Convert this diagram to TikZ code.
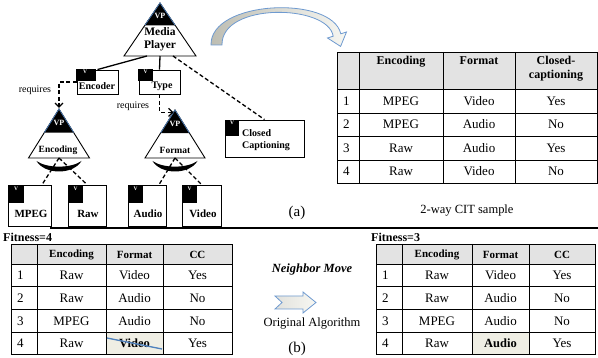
\documentclass[tikz,border=0pt]{standalone}
\usepackage{fontspec}
\setmainfont{Liberation Serif}
\usetikzlibrary{arrows.meta,calc}
\definecolor{hdrgray}{HTML}{E3E3E3}
\definecolor{cream}{HTML}{EFEEE4}
\definecolor{tipblue}{HTML}{4F81BD}
\definecolor{arrowblue}{HTML}{6E9AD0}
\definecolor{arrowgray}{HTML}{BDBDB2}
\definecolor{arrowlight}{HTML}{F7F7F2}
\newcommand\vptri[6]{%
  \coordinate (#1-apex) at (#2,#3);
  \coordinate (#1-bl) at ({#2-#4},#5);
  \coordinate (#1-br) at ({#2+#4},#5);
  \coordinate (#1-base) at (#2,#5);
  \draw[line width=0.9pt,fill=white] (#1-apex) -- (#1-bl) -- (#1-br) -- cycle;
  \coordinate (#1-tl) at ($(#1-apex)!#6!(#1-bl)$);
  \coordinate (#1-tr) at ($(#1-apex)!#6!(#1-br)$);
  \fill[black] (#1-apex) -- (#1-tl) -- (#1-tr) -- cycle;
  \draw[tipblue,line width=0.7pt] (#1-tl) -- (#1-apex) -- (#1-tr);
}
\newcommand\orarc[2]{%
  \fill[black] ({#1-22.5},{#2-1}) .. controls ({#1-14},{#2+13}) and ({#1+14},{#2+13}) .. ({#1+22.5},{#2-1})
    .. controls ({#1+12},{#2+6.5}) and ({#1-12},{#2+6.5}) .. cycle;
}
\begin{document}
\begin{tikzpicture}[x=1pt,y=-1pt,
  tbl/.style={line width=0.9pt},
  box/.style={draw,line width=0.9pt,fill=white,inner sep=0pt,rectangle},
  vsq/.style={fill=black,inner sep=0pt,anchor=north west,rectangle},
  vtxt/.style={text=white,font=\bfseries\fontsize{5.5}{6}\selectfont,inner sep=0pt,anchor=north},
  vptxt/.style={text=white,font=\bfseries\fontsize{8}{9}\selectfont,inner sep=0pt},
  mplbl/.style={font=\bfseries\fontsize{11.5}{13}\selectfont,inner sep=0pt,align=center},
  trilbl/.style={font=\bfseries\fontsize{9.5}{10}\selectfont,inner sep=0pt},
  featlbl/.style={font=\bfseries\fontsize{10}{12.5}\selectfont,inner sep=0pt},
  leaflbl/.style={font=\bfseries\fontsize{11}{12}\selectfont,inner sep=0pt},
  reqlbl/.style={font=\fontsize{10}{11}\selectfont,inner sep=0pt},
  dashcon/.style={line width=1.3pt,dash pattern=on 4pt off 2.5pt},
  solidcon/.style={line width=1.3pt},
  reqarrow/.style={dashcon,-{Straight Barb[length=4pt,width=8pt,line width=1.3pt]}},
  hdr/.style={font=\bfseries\fontsize{12}{13.5}\selectfont,inner sep=0pt},
  shdr/.style={font=\bfseries\fontsize{11}{12}\selectfont,inner sep=0pt},
  cell/.style={font=\fontsize{13}{14}\selectfont,inner sep=0pt},
  bcell/.style={font=\bfseries\fontsize{12.5}{14}\selectfont,inner sep=0pt},
  numcell/.style={font=\fontsize{13}{14}\selectfont,inner sep=0pt,anchor=west},
  plain/.style={font=\fontsize{12.5}{14}\selectfont,inner sep=0pt},
  fitlbl/.style={font=\bfseries\fontsize{12}{14}\selectfont,inner sep=0pt,anchor=west},
]
\useasboundingbox (0,0) rectangle (598,358);

% ---------------- feature tree ----------------
\vptri{mp}{160}{3}{36}{56}{0.42}
\vptri{enc}{59}{109}{30.5}{158}{0.48}
\vptri{fmt}{175}{110}{30}{158}{0.48}
\node[vptxt] (mpVP) at (160,16) {VP};
\node[vptxt] (encVP) at (59,123) {VP};
\node[vptxt] (fmtVP) at (175,124) {VP};
\node[mplbl] (mpT) at (160,39.5) {Media\\Player};
\node[trilbl] (encT) at (58,150) {Encoding};
\node[trilbl] (fmtT) at (175,150) {Format};

\coordinate (mpL) at (147,56);
\coordinate (mpR) at (173,56);

% feature boxes
\node[box,minimum width=41pt,minimum height=24pt] (encoder) at (97.5,82) {};
\node[vsq,minimum width=20pt,minimum height=12pt] (encoderV) at (76,69) {};
\node[vtxt] (encoderVt) at ($(encoderV.north)+(-1,1)$) {V};
\node[featlbl] (encoderT) at (97,86.5) {Encoder};

\node[box,minimum width=41pt,minimum height=24pt] (type) at (159.5,82) {};
\node[vsq,minimum width=15pt,minimum height=12pt] (typeV) at (138,69) {};
\node[vtxt] (typeVt) at ($(typeV.north)+(0,1)$) {V};
\node[featlbl] (typeT) at (162,86.5) {Type};

\node[box,minimum width=79pt,minimum height=37pt] (cc) at (264.5,138.5) {};
\node[vsq,minimum width=14pt,minimum height=16pt] (ccV) at (225,120) {};
\node[vtxt] (ccVt) at ($(ccV.north)+(0,1)$) {V};
\node[featlbl,align=left,anchor=west] (ccT) at (242,140) {Closed\\Captioning};

% leaves
\node[box,minimum width=43pt,minimum height=41pt] (mpeg) at (30,205.5) {};
\node[vsq,minimum width=16pt,minimum height=18pt] (mpegV) at (8,185) {};
\node[vtxt] (mpegVt) at ($(mpegV.north)+(0,1.5)$) {V};
\node[leaflbl] (mpegT) at (31,214) {MPEG};

\node[box,minimum width=38pt,minimum height=41pt] (raw) at (87,205.5) {};
\node[vsq,minimum width=15pt,minimum height=18pt] (rawV) at (68,185) {};
\node[vtxt] (rawVt) at ($(rawV.north)+(0,1.5)$) {V};
\node[leaflbl] (rawT) at (88,214) {Raw};

\node[box,minimum width=38pt,minimum height=41pt] (audio) at (147,205.5) {};
\node[vsq,minimum width=15pt,minimum height=18pt] (audioV) at (128,185) {};
\node[vtxt] (audioVt) at ($(audioV.north)+(0,1.5)$) {V};
\node[leaflbl] (audioT) at (148,214) {Audio};

\node[box,minimum width=39pt,minimum height=41pt] (video) at (201.5,205.5) {};
\node[vsq,minimum width=15pt,minimum height=18pt] (videoV) at (182,185) {};
\node[vtxt] (videoVt) at ($(videoV.north)+(0,1.5)$) {V};
\node[leaflbl] (videoT) at (203,214) {Video};

% connectors
\draw[solidcon] (mpL) -- (encoder.north);
\draw[solidcon] (mp-base) -- (type.north);
\draw[dashcon] (mpR) -- (cc.north);

\draw[reqarrow,shorten >=1pt] (encoder.west) -| (enc-apex);
\node[reqlbl] (req1) at (35,90) {requires};
\coordinate (fmtReq) at ($(fmt-apex)!0.05!(fmt-bl)$);
\draw[reqarrow] (type.south) |- (fmtReq);
\node[reqlbl] (req2) at (133,106) {requires};

% or-groups
\orarc{59}{162}
\orarc{175}{162}
\draw[dashcon] (enc-base) -- (mpeg.60);
\draw[dashcon] (enc-base) -- (raw.north);
\draw[dashcon] (fmt-base) -- (audio.60);
\draw[dashcon] (fmt-base) -- (video.north);

% curved block arrow
\draw[arrowblue,line width=0.8pt,left color=arrowgray,right color=arrowlight]
  (211,45) .. controls (210,0) and (332,-5) .. (340.8,33.8)
  -- (346.5,32) -- (340.6,46.4) -- (327.5,38) -- (333.2,36.2)
  .. controls (328,4) and (221,2) .. (222,45) -- cycle;

% ---------------- top table ----------------
\fill[hdrgray] (337,52) rectangle (597,89);
\draw[tbl] (337,52) rectangle (597,183);
\foreach \x in {359,443,515} \draw[tbl] (\x,52) -- (\x,183);
\foreach \y in {89,113,136,160} \draw[tbl] (337,\y) -- (597,\y);
\node[hdr,anchor=north] (tAh1) at (401,56) {Encoding};
\node[hdr,anchor=north] (tAh2) at (479,56) {Format};
\node[hdr,anchor=north,align=center] (tAh3) at (556,56) {Closed-\\captioning};
\foreach \r/\e/\f/\c/\y in {1/MPEG/Video/Yes/101,2/MPEG/Audio/No/124.5,3/Raw/Audio/Yes/148,4/Raw/Video/No/171.5}{
  \node[numcell] (tA-\r-0) at (343,\y) {\r};
  \node[cell] (tA-\r-1) at (401,\y) {\e};
  \node[cell] (tA-\r-2) at (479,\y) {\f};
  \node[cell] (tA-\r-3) at (556,\y) {\c};
}
\node[plain] (labA) at (297,213) {\fontsize{15}{16}\selectfont (a)};
\node[plain] (cit) at (467,211) {2-way CIT sample};

% divider
\draw[line width=1.6pt] (50,228) -- (598,228);

% ---------------- bottom left table ----------------
\node[fitlbl] (fit4) at (3,237) {Fitness=4};
\fill[hdrgray] (11,244) rectangle (232,264);
\fill[cream] (106,332) rectangle (163,354);
\draw[tbl] (11,244) rectangle (232,354);
\foreach \x in {37,106,163} \draw[tbl] (\x,244) -- (\x,354);
\foreach \y in {264,286,309,332} \draw[tbl] (11,\y) -- (232,\y);
\node[shdr] (tBh1) at (71.5,254.5) {Encoding};
\node[shdr] (tBh2) at (134.5,254.5) {Format};
\node[shdr] (tBh3) at (197.5,254.5) {CC};
\foreach \r/\e/\f/\c/\y in {1/Raw/Video/Yes/275.5,2/Raw/Audio/No/298,3/MPEG/Audio/No/321}{
  \node[numcell] (tB-\r-0) at (17,\y) {\r};
  \node[cell] (tB-\r-1) at (71.5,\y) {\e};
  \node[cell] (tB-\r-2) at (134.5,\y) {\f};
  \node[cell] (tB-\r-3) at (197.5,\y) {\c};
}
\node[numcell] (tB-4-0) at (17,343.5) {4};
\node[cell] (tB-4-1) at (71.5,343.5) {Raw};
\node[bcell] (tB-4-2) at (134.5,343.5) {Video};
\node[cell] (tB-4-3) at (197.5,343.5) {Yes};
\draw[tipblue,line width=1.3pt] (107,338) -- (162,349);

% ---------------- neighbor move ----------------
\node[font=\bfseries\itshape\fontsize{12.5}{14}\selectfont,inner sep=0pt] (nm) at (312,269) {Neighbor Move};
\draw[arrowblue,line width=0.8pt,left color=arrowgray!45!white,right color=arrowlight]
  (275,296) -- (303,296) -- (303,292) -- (316,302.5) -- (303,313) -- (303,309) -- (275,309) -- (282,302.5) -- cycle;
\node[plain] (oa) at (312,324) {Original Algorithm};
\node[plain] (labB) at (297,349) {\fontsize{15}{16}\selectfont (b)};

% ---------------- bottom right table ----------------
\node[fitlbl] (fit3) at (371,237) {Fitness=3};
\fill[hdrgray] (376,244) rectangle (595,264);
\fill[cream] (472,332) rectangle (529,354);
\draw[tbl] (376,244) rectangle (595,354);
\foreach \x in {402,472,529} \draw[tbl] (\x,244) -- (\x,354);
\foreach \y in {264,286,309,332} \draw[tbl] (376,\y) -- (595,\y);
\node[shdr] (tCh1) at (437,254.5) {Encoding};
\node[shdr] (tCh2) at (500.5,254.5) {Format};
\node[shdr] (tCh3) at (562,254.5) {CC};
\foreach \r/\e/\f/\c/\y in {1/Raw/Video/Yes/275.5,2/Raw/Audio/No/298,3/MPEG/Audio/No/321}{
  \node[numcell] (tC-\r-0) at (382,\y) {\r};
  \node[cell] (tC-\r-1) at (437,\y) {\e};
  \node[cell] (tC-\r-2) at (500.5,\y) {\f};
  \node[cell] (tC-\r-3) at (562,\y) {\c};
}
\node[numcell] (tC-4-0) at (382,343.5) {4};
\node[cell] (tC-4-1) at (437,343.5) {Raw};
\node[bcell] (tC-4-2) at (500.5,343.5) {Audio};
\node[cell] (tC-4-3) at (562,343.5) {Yes};
\end{tikzpicture}
\end{document}
